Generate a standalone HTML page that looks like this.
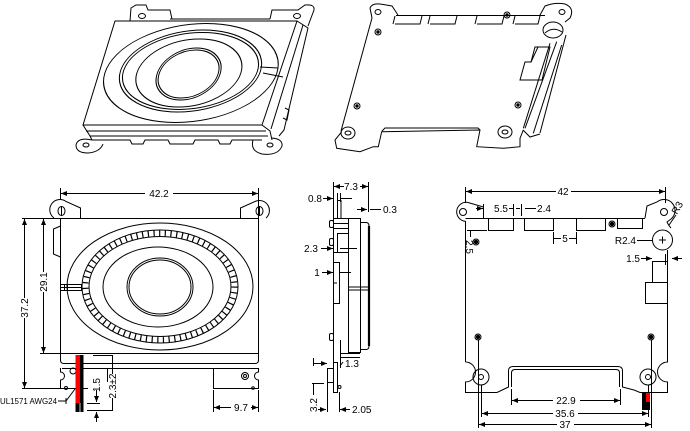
<!DOCTYPE html>
<html><head><meta charset="utf-8"><style>
html,body{margin:0;padding:0;background:#fff;}
svg{display:block;}
text{font-family:"Liberation Sans",sans-serif;font-size:10px;fill:#000;stroke:none;}
</style></head><body>
<svg width="690" height="431" viewBox="0 0 690 431" xmlns="http://www.w3.org/2000/svg">
<defs>
<marker id="a" markerUnits="userSpaceOnUse" markerWidth="6" markerHeight="5" refX="6" refY="2.5" orient="auto"><path d="M0,0 L6,2.5 L0,5 z" fill="#000"/></marker>
</defs>
<g fill="none" stroke="#000" stroke-width="1">

<!-- ================= 3D LEFT (top-left) ================= -->
<path d="M115,21 L297,21 L262,125 L83,125 Z"/>
<g transform="matrix(1,0,-0.31,1,115,21)">
<ellipse cx="92" cy="52" rx="86" ry="49.5"/>
<ellipse cx="91" cy="50" rx="70" ry="41"/>
<ellipse cx="91" cy="50" rx="67" ry="38.5"/>
<ellipse cx="90" cy="52" rx="52" ry="34"/>
<ellipse cx="90" cy="53" rx="31.5" ry="26"/>
<ellipse cx="90" cy="53" rx="29.5" ry="24"/>
</g>
<path d="M260,67 L278,68 M263,73 L283,77"/>
<path d="M297,21 L308,28 L284,130 L279,136"/>
<path d="M303,25 L271,129"/>
<path d="M83,125 L90,136 L92,140"/>
<line x1="86" y1="131" x2="266" y2="131"/>
<line x1="90" y1="136" x2="268" y2="136"/>
<path d="M262,125 L270,131 L272,140"/>
<path d="M92,140 H130 L132,144 H143 L145,140 H168 L170,144 H193 L195,140 H218 L220,144 H230 L232,140 H262"/>
<path d="M285,108 L289,110 L287,120 L283,118"/>
<path d="M92,140 Q78,137 76,145 Q76,153 88,153 Q100,152 103,144"/>
<ellipse cx="86" cy="145" rx="3" ry="2"/>
<path d="M253,140 Q250,151 262,154 Q278,156 282,146 Q283,139 272,138"/>
<ellipse cx="270" cy="145" rx="3" ry="2"/>
<path d="M130,21 L131,8 L136,5 H146 L148,10 H170 L172,19"/>
<ellipse cx="142" cy="16" rx="3.5" ry="2.5"/>
<path d="M270,19 L272,10 H298 L305,5 Q315,4 314,10 L308,26"/>
<ellipse cx="297" cy="16" rx="3.5" ry="2.5"/>
<line x1="170" y1="19" x2="270" y2="19"/>

<!-- ================= 3D RIGHT (top-right) ================= -->
<line x1="372" y1="18" x2="341" y2="131"/>
<polyline points="341.7,131.7 335,140 336.7,148.3 360,151.7 373.3,146.7 378.3,146.7 381.7,131.7 480,130 476.7,146.7 503.3,148.3 520,146.7 520,138.3 523.3,130"/>
<path d="M382,131 L385,128 H478 L480,130"/>
<path d="M372,18 L370,8 Q372,3 380,4 L392,6 L398,15"/>
<ellipse cx="378" cy="12" rx="3" ry="2.5"/>
<line x1="396" y1="15.5" x2="545" y2="15.5"/>
<path d="M393,24 L395,16 M395,24 H420 L422,16"/>
<path d="M428,24 L430,16 M430,24 H455 L457,16"/>
<path d="M475,24 L477,16 M477,24 H502 L504,16"/>
<path d="M513,24 L515,16 M515,24 H538 L540,16"/>
<path d="M540,15 L545,6 Q555,2 565,4 Q575,8 570,18 L565,22"/>
<ellipse cx="562" cy="12" rx="3" ry="2.5"/>
<ellipse cx="553" cy="30" rx="10" ry="8"/>
<path d="M545,33 Q553,26 562,32"/>
<line x1="556.7" y1="41.7" x2="525" y2="128.3"/>
<line x1="561.7" y1="45" x2="533.3" y2="133.3"/>
<line x1="550" y1="43.3" x2="523.3" y2="128.3"/>
<line x1="566" y1="35" x2="540" y2="133"/>
<path d="M523,130 L530,137 L540,134"/>
<path d="M535,47 H550 L542,80 H520 L525,62 H531 Z"/>
<line x1="538" y1="47" x2="531" y2="62"/>
<circle cx="378" cy="32" r="3"/><circle cx="378" cy="32" r="1.2" fill="#000"/>
<circle cx="507" cy="15" r="3"/><circle cx="507" cy="15" r="1.2" fill="#000"/>
<circle cx="357" cy="106" r="3"/><circle cx="357" cy="106" r="1.2" fill="#000"/>
<circle cx="518" cy="105" r="3"/><circle cx="518" cy="105" r="1.2" fill="#000"/>
<ellipse cx="348" cy="133" rx="7" ry="6"/><ellipse cx="348" cy="133" rx="3" ry="2"/>
<ellipse cx="505" cy="132" rx="7" ry="6"/><ellipse cx="505" cy="132" rx="3" ry="2"/>

<!-- ================= FRONT VIEW (bottom-left) ================= -->
<line x1="60.5" y1="188" x2="60.5" y2="200"/>
<line x1="258.5" y1="188" x2="258.5" y2="228"/>
<line x1="145" y1="193.5" x2="61" y2="193.5" marker-end="url(#a)"/>
<line x1="173" y1="193.5" x2="258" y2="193.5" marker-end="url(#a)"/>
<path d="M80.5,218 V208 L66,201.5 A10,10 0 0,0 54,218"/>
<ellipse cx="61.5" cy="211" rx="3.5" ry="4.5"/>
<line x1="61.5" y1="206" x2="61.5" y2="216"/>
<path d="M240.5,218 V208 L255,201.5 A10,10 0 0,1 266,218"/>
<ellipse cx="259.5" cy="211" rx="3.5" ry="4.5"/>
<line x1="259.5" y1="206" x2="259.5" y2="216"/>
<line x1="22" y1="218.5" x2="258.5" y2="218.5"/>
<line x1="60.5" y1="218" x2="60.5" y2="361"/>
<line x1="258.5" y1="218" x2="258.5" y2="361"/>
<line x1="40" y1="353.5" x2="258" y2="353.5"/>
<path d="M60.5,360 Q60.5,363.5 64,363.5 H255 Q258.5,363.5 258.5,360"/>
<line x1="62" y1="368.5" x2="258" y2="368.5"/>
<line x1="93" y1="355.5" x2="112" y2="355.5"/>
<path d="M60.5,226 L53.5,229 V254 L60.5,257"/>
<rect x="60.5" y="284.5" width="21" height="6"/>
<line x1="60.5" y1="287.5" x2="81.5" y2="287.5"/>
<line x1="64.5" y1="284.5" x2="64.5" y2="290.5"/>
<line x1="67.5" y1="284.5" x2="67.5" y2="290.5"/>
<ellipse cx="160" cy="286.5" rx="93" ry="63.5"/>
<ellipse cx="160" cy="286.5" rx="78" ry="56.5"/>
<ellipse cx="160" cy="286.5" rx="71" ry="50"/>
<ellipse cx="160" cy="286.5" rx="74.5" ry="53.3" stroke-width="6" stroke-dasharray="1.2 4.5"/>
<ellipse cx="158" cy="287" rx="55" ry="40"/>
<ellipse cx="160" cy="287" rx="33" ry="29"/>
<ellipse cx="160" cy="287" rx="31" ry="27"/>
<!-- 37.2 / 29.1 -->
<line x1="24.5" y1="298" x2="24.5" y2="219" marker-end="url(#a)"/>
<line x1="24.5" y1="318" x2="24.5" y2="388" marker-end="url(#a)"/>
<line x1="43.5" y1="272" x2="43.5" y2="219" marker-end="url(#a)"/>
<line x1="43.5" y1="292" x2="43.5" y2="353" marker-end="url(#a)"/>
<line x1="22" y1="388.5" x2="60" y2="388.5"/>
<!-- brackets -->
<path d="M60.5,368 V372 A4,4 0 0,1 60.5,380 V388.5 H88"/>
<line x1="107.5" y1="368" x2="107.5" y2="382"/>
<circle cx="73" cy="371" r="3"/>
<circle cx="66" cy="388" r="1.5"/>
<path d="M213.5,368 V388.5 H258.5 V380 A4,4 0 0,1 258.5,372 V368"/>
<circle cx="245" cy="376" r="3.5"/><circle cx="245" cy="376" r="1.5"/>
<circle cx="253" cy="388" r="1.3"/>
<!-- 9.7 -->
<line x1="213.5" y1="390" x2="213.5" y2="412"/>
<line x1="258.5" y1="390" x2="258.5" y2="412"/>
<line x1="231" y1="407.5" x2="214" y2="407.5" marker-end="url(#a)"/>
<line x1="251" y1="407.5" x2="258" y2="407.5" marker-end="url(#a)"/>
<!-- 2.3±2 / 1.5 -->
<line x1="112.5" y1="355" x2="112.5" y2="374"/>
<line x1="112.5" y1="398" x2="112.5" y2="411"/>
<line x1="87" y1="410.5" x2="112" y2="410.5"/>
<line x1="96.5" y1="390" x2="96.5" y2="402" marker-end="url(#a)"/>
<line x1="87" y1="403.5" x2="100" y2="403.5"/>
<line x1="96.5" y1="422" x2="96.5" y2="412" marker-end="url(#a)"/>
<!-- UL leader -->
<polyline points="58,401 66,401 75,389"/>
<line x1="66" y1="398" x2="66" y2="404"/>
</g>
<!-- wires -->
<rect x="75.5" y="355" width="4.5" height="48" fill="#ff0000"/>
<rect x="75.5" y="403" width="4.5" height="9" fill="#000"/>
<rect x="80" y="355" width="3.5" height="57" fill="#000"/>
<line x1="80" y1="403" x2="80" y2="412" stroke="#fff" stroke-width="0.8"/>

<text x="159" y="197" text-anchor="middle">42.2</text>
<text transform="translate(28,308) rotate(-90)" text-anchor="middle">37.2</text>
<text transform="translate(47,282) rotate(-90)" text-anchor="middle">29.1</text>
<text x="241" y="411" text-anchor="middle">9.7</text>
<text transform="translate(100,385) rotate(-90)" text-anchor="middle">1.5</text>
<text transform="translate(116,386) rotate(-90)" text-anchor="middle">2.3±2</text>
<text x="0" y="404" font-size="8.5" textLength="57" lengthAdjust="spacingAndGlyphs" style="font-size:8.5px">UL1571 AWG24</text>

<!-- ================= SIDE VIEW ================= -->
<g fill="none" stroke="#000" stroke-width="1">
<line x1="333.5" y1="182" x2="333.5" y2="362"/>
<line x1="368.5" y1="182" x2="368.5" y2="212"/>
<line x1="344" y1="186.5" x2="334" y2="186.5" marker-end="url(#a)"/>
<line x1="360" y1="186.5" x2="368" y2="186.5" marker-end="url(#a)"/>
<line x1="323" y1="198.5" x2="333" y2="198.5" marker-end="url(#a)"/>
<line x1="337.5" y1="193" x2="337.5" y2="202"/>
<line x1="340.5" y1="193" x2="340.5" y2="202"/>
<line x1="340" y1="198.5" x2="352" y2="198.5"/>
<line x1="357" y1="209.5" x2="367" y2="209.5" marker-end="url(#a)"/>
<line x1="370" y1="209.5" x2="381" y2="209.5"/>
<rect x="337.5" y="200.5" width="3.5" height="18"/>
<line x1="333" y1="218.5" x2="360" y2="218.5"/>
<rect x="348.5" y="218.5" width="12" height="134"/>
<path d="M360.5,222.5 H366 Q369,222.5 369,226 V346 Q369,349.5 366,349.5 H360.5"/>
<line x1="369" y1="226" x2="369" y2="346" stroke-width="2.2"/>
<line x1="348.5" y1="287" x2="369" y2="287"/>
<line x1="348.5" y1="290" x2="369" y2="290"/>
<line x1="333.5" y1="223.5" x2="348.5" y2="223.5"/>
<line x1="333.5" y1="228.5" x2="348.5" y2="228.5"/>
<rect x="337.5" y="233.5" width="11" height="19"/>
<line x1="333.5" y1="252.5" x2="348.5" y2="252.5"/>
<rect x="329.5" y="220.5" width="4" height="7" rx="1.5"/>
<rect x="329.5" y="238.5" width="4" height="7" rx="1.5"/>
<rect x="329.5" y="333.5" width="4" height="7" rx="1.5"/>
<path d="M333.5,262.5 H339.5 V303.5 H333.5"/>
<line x1="333.5" y1="283" x2="337" y2="283"/>
<line x1="322" y1="272.5" x2="333" y2="272.5" marker-end="url(#a)"/>
<line x1="351" y1="272.5" x2="340" y2="272.5"/>
<line x1="321" y1="248.5" x2="333" y2="248.5" marker-end="url(#a)"/>
<line x1="340" y1="248.5" x2="357" y2="248.5"/>
<line x1="340.5" y1="340" x2="340.5" y2="368"/>
<line x1="340" y1="353.5" x2="360" y2="353.5"/>
<line x1="340" y1="357.5" x2="360" y2="357.5"/>
<path d="M340,366 L343,362"/>
<rect x="327.5" y="368.5" width="6" height="14"/>
<rect x="333.5" y="362.5" width="4" height="30"/>
<circle cx="339.5" cy="387" r="1.5"/>
<line x1="313.5" y1="358" x2="313.5" y2="366"/>
<line x1="313" y1="363.5" x2="327" y2="363.5" marker-end="url(#a)"/>
<line x1="312" y1="383.5" x2="324" y2="383.5"/>
<line x1="313.5" y1="383" x2="313.5" y2="395"/>
<line x1="318" y1="409.5" x2="326" y2="409.5" marker-end="url(#a)"/>
<line x1="327.5" y1="382" x2="327.5" y2="412"/>
<line x1="339.5" y1="392" x2="339.5" y2="412"/>
<line x1="350" y1="409.5" x2="340" y2="409.5" marker-end="url(#a)"/>
</g>
<text x="351" y="190" text-anchor="middle">7.3</text>
<text x="315" y="202" text-anchor="middle">0.8</text>
<text x="383" y="213">0.3</text>
<text x="311" y="252" text-anchor="middle">2.3</text>
<text x="317" y="276" text-anchor="middle">1</text>
<text x="345" y="367">1.3</text>
<text transform="translate(317,405) rotate(-90)" text-anchor="middle">3.2</text>
<text x="352" y="413">2.05</text>

<!-- ================= BACK VIEW (bottom-right) ================= -->
<g fill="none" stroke="#000" stroke-width="1">
<line x1="465.5" y1="187" x2="465.5" y2="203"/>
<line x1="665.5" y1="187" x2="665.5" y2="203"/>
<line x1="556" y1="191.5" x2="466" y2="191.5" marker-end="url(#a)"/>
<line x1="571" y1="191.5" x2="665" y2="191.5" marker-end="url(#a)"/>
<path d="M483.5,218 V207 L468,202.5 A9.5,9.5 0 1,0 465.5,221.3"/>
<circle cx="463" cy="212" r="3.5"/>
<path d="M645,218 L647,206 L657,202 A8.5,8.5 0 0,1 671,219 L667,222 Q669,226 671,228"/>
<circle cx="664" cy="212" r="3.5"/>
<line x1="465.5" y1="218.5" x2="645" y2="218.5"/>
<line x1="465.5" y1="221" x2="465.5" y2="362"/>
<path d="M465.5,362 A10,10 0 0,1 465.5,382 V392.5 H497 L508.5,387 V371 Q508.5,366.5 513,366.5 H618 Q622.5,366.5 622.5,371 V387 L634,390 L640,392.5 H667.5 V382 A10,10 0 0,1 667.5,362 V250"/>
<path d="M511.5,387 V373 Q511.5,369.5 515,369.5 H616 Q619.5,369.5 619.5,373 V387"/>
<path d="M488.5,218 V230.5 H513.5 V218"/>
<path d="M524.5,218 V230.5 H553.5 V218"/>
<path d="M576.5,218 V230.5 H605.5 V218"/>
<path d="M617.5,218 V228.5 H642.5 V218"/>
<circle cx="662.5" cy="240" r="10"/>
<line x1="659" y1="240" x2="666" y2="240"/>
<line x1="662.5" y1="236.5" x2="662.5" y2="243.5"/>
<line x1="637" y1="240.5" x2="652" y2="240.5"/>
<line x1="669" y1="225" x2="676" y2="215"/>
<rect x="652.5" y="261.5" width="15" height="21"/>
<rect x="645.5" y="282.5" width="22" height="21"/>
<line x1="641" y1="258.5" x2="652" y2="258.5" marker-end="url(#a)"/>
<line x1="665.5" y1="254" x2="665.5" y2="265"/>
<line x1="682" y1="258.5" x2="672" y2="258.5" marker-end="url(#a)"/>
<line x1="483.5" y1="204" x2="483.5" y2="216"/>
<line x1="476" y1="208.5" x2="483" y2="208.5" marker-end="url(#a)"/>
<line x1="509" y1="208.5" x2="513" y2="208.5"/>
<line x1="513.5" y1="204" x2="513.5" y2="216"/>
<line x1="516" y1="208.5" x2="520" y2="208.5"/>
<line x1="521.5" y1="204" x2="521.5" y2="216"/>
<line x1="525" y1="208.5" x2="536" y2="208.5"/>
<line x1="553.5" y1="232" x2="553.5" y2="244"/>
<line x1="576.5" y1="232" x2="576.5" y2="244"/>
<line x1="553.5" y1="238.5" x2="561" y2="238.5"/>
<line x1="569" y1="238.5" x2="576.5" y2="238.5"/>
<line x1="467" y1="230.5" x2="487" y2="230.5"/>
<line x1="470.5" y1="230" x2="470.5" y2="237"/>
<circle cx="481" cy="377" r="8"/><circle cx="481" cy="377" r="2.5"/>
<circle cx="648" cy="377" r="8"/><circle cx="648" cy="377" r="2.5"/>
<circle cx="612" cy="224" r="3"/><circle cx="476" cy="242" r="3"/>
<circle cx="478" cy="337" r="3"/><circle cx="651" cy="337" r="3"/>
<line x1="478.5" y1="340" x2="478.5" y2="428"/>
<line x1="651.5" y1="340" x2="651.5" y2="428"/>
<line x1="481.5" y1="385" x2="481.5" y2="417"/>
<line x1="648.5" y1="385" x2="648.5" y2="417"/>
<line x1="511.5" y1="389" x2="511.5" y2="405"/>
<line x1="620.5" y1="389" x2="620.5" y2="405"/>
<line x1="553" y1="400.5" x2="512" y2="400.5" marker-end="url(#a)"/>
<line x1="580" y1="400.5" x2="620" y2="400.5" marker-end="url(#a)"/>
<line x1="553" y1="413.5" x2="482" y2="413.5" marker-end="url(#a)"/>
<line x1="578" y1="413.5" x2="648" y2="413.5" marker-end="url(#a)"/>
<line x1="557" y1="424.5" x2="479" y2="424.5" marker-end="url(#a)"/>
<line x1="574" y1="424.5" x2="651" y2="424.5" marker-end="url(#a)"/>
</g>
<g fill="#000">
<circle cx="612" cy="224" r="2.2"/><circle cx="476" cy="242" r="2.2"/>
<circle cx="478" cy="337" r="2.2"/><circle cx="651" cy="337" r="2.2"/>
</g>
<rect x="642" y="393" width="4" height="17" fill="#000"/>
<rect x="646" y="393" width="4" height="9" fill="#ff0000"/>
<rect x="646" y="402" width="4" height="8" fill="#000"/>
<text x="563" y="195" text-anchor="middle">42</text>
<text x="501" y="212" text-anchor="middle">5.5</text>
<text x="544" y="212" text-anchor="middle">2.4</text>
<text x="565" y="242" text-anchor="middle">5</text>
<text x="636" y="244" text-anchor="end">R2.4</text>
<text x="640" y="262" text-anchor="end">1.5</text>
<text transform="translate(677,215) rotate(-60)">R3</text>
<text transform="translate(466,247) rotate(90)" text-anchor="middle">2.5</text>
<text x="566" y="404" text-anchor="middle">22.9</text>
<text x="565" y="417" text-anchor="middle">35.6</text>
<text x="565" y="428" text-anchor="middle">37</text>
</svg>
</body></html>
